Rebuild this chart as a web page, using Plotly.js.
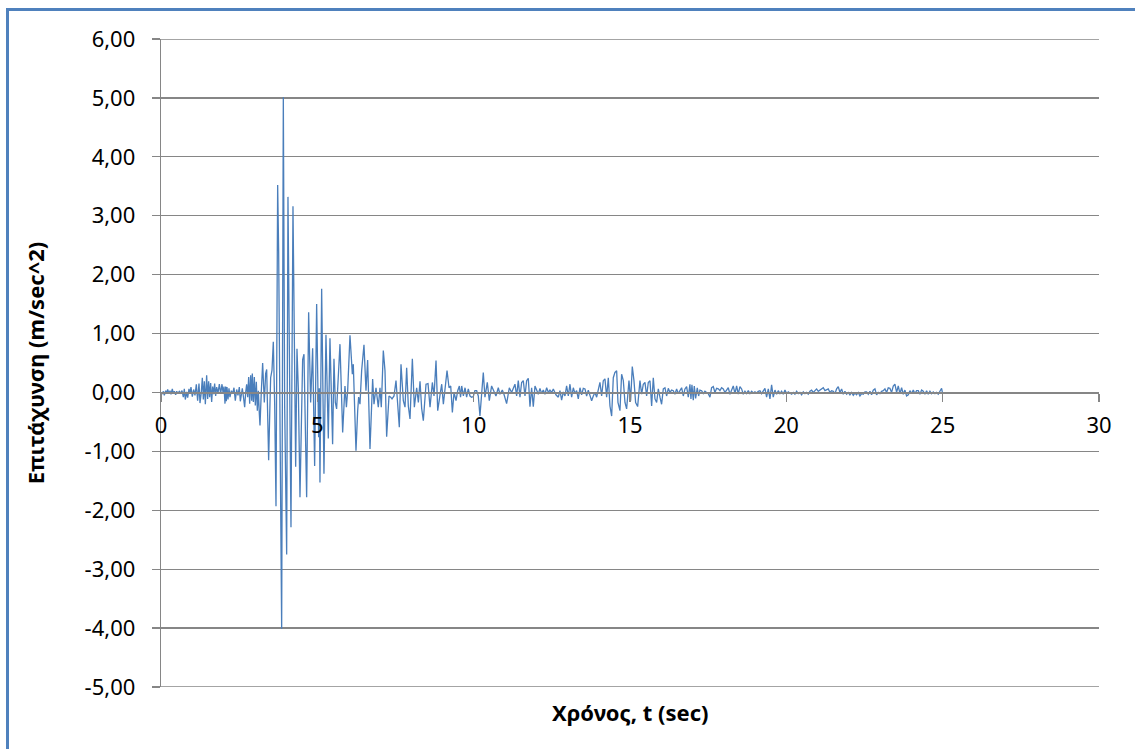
<!DOCTYPE html>
<html>
<head>
<meta charset="utf-8">
<script src="https://cdn.plot.ly/plotly-3.0.1.min.js"></script>
<style>
  html, body { margin: 0; padding: 0; background: #ffffff; overflow: hidden; }
  #frame { position: absolute; left: 6px; top: 8px; width: 1300px; height: 900px;
           border-left: 3px solid #4F81BD; border-top: 3px solid #4F81BD; box-sizing: border-box; }
  #chart { position: absolute; left: 0; top: 0; width: 1135px; height: 749px; }
</style>
</head>
<body>
<div id="frame"></div>
<div id="chart"></div>
<script>
// ---- Data (time in s, acceleration in m/s^2) ----
// Segment 1: quiet onset 0 - 3.15 s
const tPre = [0.00,0.053,0.075,0.106,0.149,0.181,0.213,0.256,0.288,0.32,0.362,0.394,0.426,0.469,0.501,0.544,0.586,0.629,0.672,0.714,0.746,0.778,0.821,0.853,0.895,0.927,0.959,1.002,1.044,1.087,1.13,1.172,1.215,1.247,1.29,1.322,1.354,1.386,1.418,1.46,1.492,1.524,1.556,1.588,1.62,1.652,1.684,1.716,1.748,1.78,1.823,1.866,1.908,1.951,1.983,2.015,2.047,2.068,2.089,2.111,2.143,2.174,2.206,2.249,2.292,2.334,2.377,2.42,2.462,2.505,2.537,2.569,2.601,2.633,2.676,2.708,2.74,2.772,2.804,2.836,2.868,2.9,2.921,2.953,2.985,3.017,3.049,3.081,3.113,3.145];
const aPre = [-0.02,-0.02,0.02,-0.05,0.03,-0.01,0.05,-0.02,0.03,-0.03,0.06,-0.02,0.02,-0.04,0.02,-0.01,0.02,-0.01,0.03,-0.08,0.06,-0.12,0.01,-0.09,0.06,-0.02,0.09,-0.07,0.05,-0.05,0.14,-0.14,0.15,-0.18,0.01,0.25,-0.12,0.19,-0.20,0.29,-0.11,0.19,-0.08,0.16,-0.16,0.10,-0.03,0.15,-0.06,0.09,-0.01,0.14,-0.02,0.14,0.00,0.10,-0.19,0.10,-0.15,0.09,-0.12,0.07,-0.08,0.03,-0.02,0.08,-0.14,0.05,-0.05,0.09,-0.15,0.02,0.07,-0.06,-0.25,0.00,0.14,-0.08,0.26,-0.19,0.29,-0.14,0.32,-0.16,0.26,-0.22,0.18,-0.31,0.03,-0.36];

// Segment 2: strong motion 3.17 - 5.6 s
const tStrong = [3.166,3.208,3.251,3.304,3.347,3.38,3.443,3.486,3.507,3.55,3.592,3.635,3.678,3.731,3.763,3.859,3.912,3.955,4.019,4.061,4.115,4.157,4.221,4.264,4.307,4.349,4.392,4.445,4.498,4.53,4.573,4.616,4.658,4.722,4.786,4.85,4.914,4.978,5.042,5.063,5.084,5.138,5.212,5.276,5.351,5.404,5.489,5.532,5.575];
const aStrong = [-0.56,0.01,0.50,-0.17,0.32,0.39,-1.15,-0.17,0.25,0.38,0.86,-0.17,-1.93,3.52,2.38,-4.01,5.01,-0.23,-2.75,3.32,0.01,-2.29,3.16,0.44,-1.26,0.74,0.07,-1.78,0.07,0.56,0.65,-0.47,-1.78,1.36,-0.17,0.75,-1.25,1.50,-0.76,0.07,-1.53,1.76,-1.38,0.98,-0.78,0.92,-0.88,0.57,-0.17];

// Segment 3: decay 5.6 - 10.2 s
const tDecay = [5.617,5.67,5.724,5.81,5.884,5.93,5.97,6.044,6.097,6.12,6.15,6.236,6.29,6.321,6.364,6.417,6.492,6.556,6.609,6.684,6.769,6.812,6.876,6.95,7.004,7.046,7.11,7.164,7.217,7.292,7.345,7.388,7.452,7.516,7.558,7.622,7.676,7.75,7.804,7.857,7.91,7.964,8.039,8.103,8.177,8.231,8.284,8.337,8.39,8.476,8.54,8.604,8.679,8.732,8.796,8.85,8.924,8.978,9.031,9.095,9.148,9.212,9.266,9.319,9.372,9.436,9.49,9.543,9.58,9.618,9.671,9.724,9.775,9.828,9.882,9.935,9.988,10.04,10.095,10.148,10.201];
const aDecay = [-0.28,0.20,0.82,-0.68,0.11,-0.25,0.03,0.97,0.45,0.31,0.48,-0.99,-0.31,-0.08,-0.20,0.37,0.81,0.03,0.55,-0.96,0.23,-0.20,0.08,-0.25,0.08,-0.25,0.71,0.37,-0.75,-0.06,-0.08,-0.11,-0.06,0.20,-0.11,-0.59,0.48,-0.14,-0.25,0.42,-0.23,-0.45,0.57,-0.25,0.08,-0.17,0.19,-0.27,-0.48,0.14,0.15,-0.25,0.17,-0.06,0.54,-0.31,-0.04,0.14,-0.20,0.11,0.37,0.08,0.11,-0.34,0.00,-0.14,0.03,0.11,-0.08,0.11,-0.06,0.08,-0.08,0.06,-0.06,-0.08,-0.07,0.03,0.03,-0.06,-0.40];

// Segment 4: coda with second burst 10.3 - 15.9 s
const tCoda = [10.308,10.361,10.436,10.5,10.574,10.649,10.713,10.788,10.841,10.916,10.969,11.054,11.14,11.214,11.268,11.321,11.374,11.427,11.481,11.534,11.587,11.641,11.694,11.747,11.801,11.854,11.907,11.961,12.014,12.067,12.12,12.174,12.227,12.28,12.334,12.39,12.44,12.494,12.547,12.632,12.707,12.76,12.813,12.867,12.92,12.973,13.027,13.08,13.133,13.187,13.24,13.293,13.346,13.4,13.453,13.506,13.56,13.613,13.666,13.72,13.773,13.826,13.88,13.933,13.986,14.039,14.093,14.146,14.199,14.253,14.306,14.359,14.413,14.466,14.519,14.573,14.615,14.679,14.732,14.786,14.839,14.892,14.967,15.02,15.073,15.127,15.18,15.244,15.319,15.372,15.425,15.479,15.532,15.585,15.639,15.692,15.745,15.799,15.852,15.905];
const aCoda = [0.34,-0.08,0.17,-0.14,0.11,0.03,-0.06,0.08,-0.03,0.04,-0.03,-0.19,0.08,0.00,0.06,0.14,-0.06,0.20,-0.08,0.17,0.20,-0.06,0.20,0.24,-0.24,0.08,-0.24,0.11,0.04,-0.03,0.07,-0.02,0.04,-0.03,0.08,0.00,0.04,0.00,0.06,-0.04,-0.08,0.03,-0.13,0.01,-0.06,0.11,-0.06,0.14,-0.08,0.08,-0.02,0.03,-0.11,0.08,-0.04,0.07,0.06,-0.06,0.04,-0.07,-0.14,-0.06,0.00,-0.08,0.08,0.17,-0.06,0.20,0.23,-0.08,0.25,-0.23,-0.40,0.25,0.34,0.37,-0.17,-0.31,0.31,0.20,-0.17,-0.28,0.20,-0.14,0.44,0.20,-0.17,-0.24,0.20,-0.03,0.14,0.17,-0.06,0.17,0.20,-0.23,0.25,-0.11,-0.17,0.06];

// Segment 5: tail 15.96 - 25 s
const tTail = [15.958,16.011,16.065,16.118,16.171,16.225,16.278,16.331,16.384,16.438,16.491,16.544,16.598,16.651,16.704,16.758,16.811,16.864,16.917,16.949,16.981,17.024,17.056,17.099,17.152,17.195,17.237,17.291,17.344,17.397,17.45,17.504,17.557,17.61,17.664,17.717,17.77,17.824,17.877,17.93,17.983,18.037,18.09,18.143,18.197,18.25,18.303,18.357,18.41,18.463,18.516,18.57,18.623,18.676,18.73,18.783,18.836,18.89,18.943,18.996,19.049,19.103,19.156,19.209,19.263,19.316,19.369,19.423,19.476,19.529,19.582,19.636,19.689,19.742,19.796,19.849,19.902,19.956,20.009,20.062,20.115,20.169,20.222,20.275,20.329,20.382,20.435,20.489,20.542,20.595,20.648,20.702,20.755,20.808,20.862,20.915,20.968,21.022,21.075,21.128,21.181,21.235,21.288,21.341,21.395,21.448,21.501,21.555,21.608,21.661,21.714,21.768,21.821,21.874,21.928,21.981,22.034,22.088,22.141,22.194,22.247,22.301,22.354,22.407,22.461,22.514,22.567,22.621,22.674,22.727,22.78,22.834,22.887,22.94,22.994,23.047,23.1,23.154,23.207,23.26,23.313,23.367,23.42,23.473,23.527,23.58,23.633,23.687,23.74,23.793,23.846,23.9,23.953,24.006,24.06,24.113,24.166,24.22,24.273,24.326,24.379,24.433,24.486,24.539,24.593,24.646,24.699,24.753,24.806,24.859,24.912,24.966,24.998];
const aTail = [-0.08,-0.20,0.06,0.08,-0.06,0.07,0.00,0.04,0.03,-0.03,0.06,-0.02,0.03,0.08,-0.06,0.06,0.10,-0.08,0.14,-0.11,0.13,-0.13,0.11,-0.10,0.08,-0.06,0.04,0.03,-0.02,0.02,0.00,-0.02,-0.08,0.08,0.10,0.00,0.07,0.06,0.03,0.08,0.06,0.00,0.04,0.08,-0.03,0.06,0.11,-0.02,0.11,-0.03,0.10,0.06,-0.03,0.02,-0.02,0.03,-0.02,0.02,-0.01,0.01,-0.01,0.02,0.03,-0.02,0.03,0.07,-0.08,0.06,-0.11,0.13,-0.08,0.04,-0.03,0.03,-0.02,0.02,-0.03,0.04,-0.02,0.01,-0.01,-0.03,0.00,-0.03,0.02,-0.02,0.00,-0.04,0.01,-0.02,0.00,-0.03,0.02,0.04,0.00,0.03,0.06,0.02,0.04,0.07,0.08,0.03,0.04,0.06,0.00,0.03,0.02,-0.02,0.06,0.10,0.00,0.06,-0.03,0.02,-0.03,0.00,-0.04,0.00,-0.05,-0.01,-0.04,0.00,-0.06,-0.02,-0.03,0.01,0.01,-0.03,0.02,-0.04,0.04,0.06,-0.04,0.00,-0.02,0.02,0.03,0.06,0.00,0.08,0.07,0.00,0.11,0.14,0.00,0.11,-0.02,0.08,-0.03,0.04,-0.06,-0.04,0.03,-0.02,0.04,-0.02,0.03,0.03,-0.03,0.04,0.02,-0.03,0.03,-0.03,0.02,-0.02,0.01,-0.02,0.00,-0.03,0.02,0.07,-0.02];

// Axis ticks
const xTickVals = [0, 5, 10, 15, 20, 25, 30];
const xTickText = ['0', '5', '10', '15', '20', '25', '30'];
const yTickVals = [-5, -4, -3, -2, -1, 0, 1, 2, 3, 4, 5, 6];
const yTickText = ['-5,00', '-4,00', '-3,00', '-2,00', '-1,00', '0,00', '1,00', '2,00', '3,00', '4,00', '5,00', '6,00'];

const xTitle = 'Χρόνος, t (sec)';
const yTitle = 'Επιτάχυνση (m/sec^2)';

// ---- Build trace ----
const timeSec = [].concat(tPre, tStrong, tDecay, tCoda, tTail);
const accel = [].concat(aPre, aStrong, aDecay, aCoda, aTail);

const gridGray = '#868686';
const fontFam = '"Noto Sans", "Open Sans", sans-serif';
const yMin = yTickVals[0], yMax = yTickVals[yTickVals.length - 1];

const trace = {
  x: timeSec, y: accel, type: 'scatter', mode: 'lines',
  line: { color: '#4A7EBB', width: 1.3 },
  hoverinfo: 'skip'
};

// Gridlines at the two range ends (Plotly drops those at the edges)
const edgeGrid = [yMin, yMax].map(v => ({
  type: 'line', xref: 'paper', yref: 'y', x0: 0, x1: 1, y0: v, y1: v,
  line: { color: gridGray, width: 1.3 }, layer: 'below'
}));

const layout = {
  width: 1135, height: 749,
  margin: { l: 161, r: 36, t: 39, b: 62, pad: 0 },
  paper_bgcolor: 'rgba(0,0,0,0)', plot_bgcolor: 'rgba(0,0,0,0)',
  showlegend: false,
  font: { family: fontFam, size: 22, color: '#000000' },
  xaxis: {
    range: [0, 30], tickmode: 'array', tickvals: xTickVals, ticktext: xTickText,
    anchor: 'free', position: 5 / 11,
    showline: true, linecolor: gridGray, linewidth: 1.3,
    ticks: 'outside', ticklen: 8, tickcolor: gridGray, tickwidth: 1.3,
    ticklabelstandoff: 5,
    showgrid: false, zeroline: false,
    tickfont: { family: fontFam, size: 22, color: '#000000' },
    title: { text: '' }
  },
  yaxis: {
    range: [yMin, yMax], tickmode: 'array', tickvals: yTickVals, ticktext: yTickText,
    showline: true, linecolor: gridGray, linewidth: 1.3,
    ticks: 'outside', ticklen: 8, tickcolor: gridGray, tickwidth: 1.3,
    ticklabelstandoff: 12,
    showgrid: true, gridcolor: gridGray, gridwidth: 1.3,
    zeroline: false,
    tickfont: { family: fontFam, size: 22, color: '#000000' },
    title: { text: yTitle, font: { family: fontFam, size: 22, color: '#000000', weight: 'bold' }, standoff: 34 }
  },
  shapes: edgeGrid,
  annotations: [{
    text: '<b>' + xTitle + '</b>', xref: 'paper', yref: 'paper',
    x: 0.5, y: -25 / 648, xanchor: 'center', yanchor: 'middle', showarrow: false,
    font: { family: fontFam, size: 22, color: '#000000' }
  }]
};

Plotly.newPlot('chart', [trace], layout, { staticPlot: true, displayModeBar: false });
</script>
</body>
</html>
